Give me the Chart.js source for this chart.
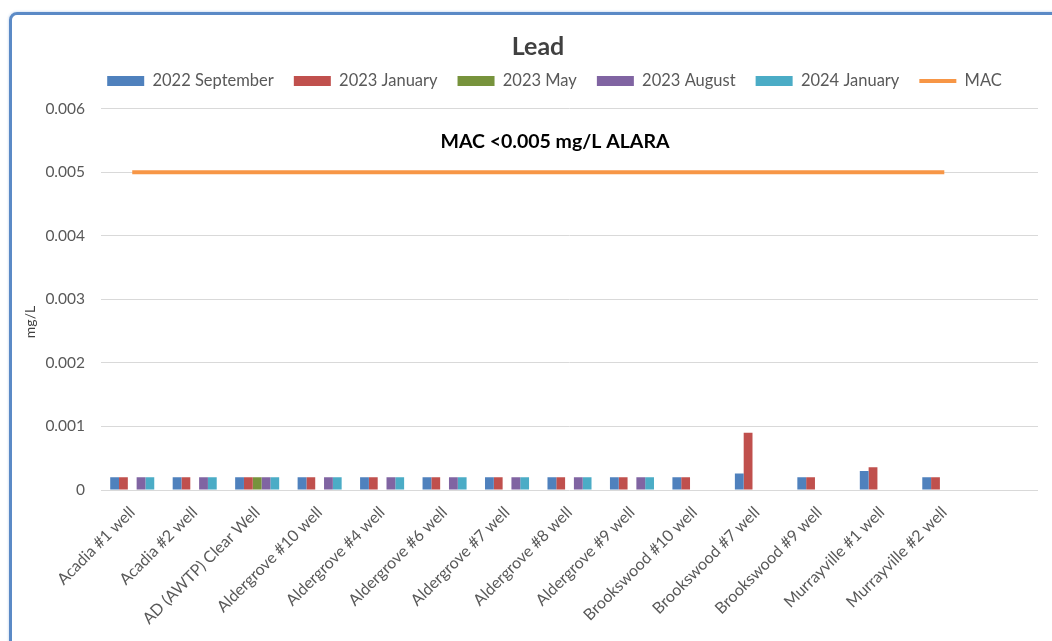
<!DOCTYPE html>
<html>
<head>
<meta charset="utf-8">
<title>Lead</title>
<script src="https://cdn.jsdelivr.net/npm/chart.js@4.4.1/dist/chart.umd.min.js"></script>
<style>
  html, body { margin: 0; padding: 0; background: #fff; }
  #frame {
    position: absolute; left: 9px; top: 12px;
    width: 1100px; height: 700px;
    border: 3px solid #5b8ac6; border-radius: 8px;
    box-shadow: 0 0 3px #b8cde9;
  }
  #wrap { position: absolute; left: 0; top: 0; width: 1052px; height: 641px; }
</style>
</head>
<body>
<div id="frame"></div>
<div id="wrap"><canvas id="chart"></canvas></div>
<script>
// Datos
const wells = [
    'Acadia #1 well', 'Acadia #2 well', 'AD (AWTP) Clear Well', 'Aldergrove #10 well',
    'Aldergrove #4 well', 'Aldergrove #6 well', 'Aldergrove #7 well', 'Aldergrove #8 well',
    'Aldergrove #9 well', 'Brookswood #10 well', 'Brookswood #7 well', 'Brookswood #9 well',
    'Murrayville #1 well', 'Murrayville #2 well', ''
];
const sep2022 = [0.0002, 0.0002, 0.0002, 0.0002, 0.0002, 0.0002, 0.0002, 0.0002, 0.0002, 0.0002, 0.00026, 0.0002, 0.0003, 0.0002, null];
const jan2023 = [0.0002, 0.0002, 0.0002, 0.0002, 0.0002, 0.0002, 0.0002, 0.0002, 0.0002, 0.0002, 0.0009, 0.0002, 0.00036, 0.0002, null];
const may2023 = [null, null, 0.0002, null, null, null, null, null, null, null, null, null, null, null, null];
const aug2023 = [0.0002, 0.0002, 0.0002, 0.0002, 0.0002, 0.0002, 0.0002, 0.0002, 0.0002, null, null, null, null, null, null];
const jan2024 = [0.0002, 0.0002, 0.0002, 0.0002, 0.0002, 0.0002, 0.0002, 0.0002, 0.0002, null, null, null, null, null, null];
const mac = [0.005, 0.005, 0.005, 0.005, 0.005, 0.005, 0.005, 0.005, 0.005, 0.005, 0.005, 0.005, 0.005, 0.005, null];
const yTicks = [0, 0.001, 0.002, 0.003, 0.004, 0.005, 0.006];
const yMax = 0.00615; // un poco de aire sobre 0.006, como en el original

const chartTitle = 'Lead';
const yTitle = 'mg/L';
const macNote = 'MAC <0.005 mg/L ALARA';
const macNoteValue = 0.00548;

Chart.defaults.font.family = 'Lato, "Liberation Sans", sans-serif';
Chart.defaults.color = '#595959';

// Título, etiqueta del eje y nota del MAC dibujados sobre el canvas
const textPlugin = {
    id: 'chartText',
    afterLayout(chart) {
        // centrar la leyenda como en Excel
        chart.legend.left += 35.5;
        chart.legend.right += 35.5;
    },
    afterDatasetsDraw(chart) {
        const ctx = chart.ctx;
        const y = chart.scales.y;
        ctx.save();
        ctx.textAlign = 'center';
        ctx.textBaseline = 'middle';
        ctx.fillStyle = '#404040';
        ctx.font = 'bold 25px Lato, sans-serif';
        ctx.fillText(chartTitle, 538, 47);
        ctx.fillStyle = '#000';
        ctx.font = 'bold 19.5px Lato, sans-serif';
        ctx.fillText(macNote, 555, y.getPixelForValue(macNoteValue));
        ctx.translate(30, 322);
        ctx.rotate(-Math.PI / 2);
        ctx.fillStyle = '#404040';
        ctx.font = '14px Lato, sans-serif';
        ctx.fillText(yTitle, 0, 0);
        ctx.restore();
    }
};

function barSet(label, data, color) {
    return {
        type: 'bar',
        label: label,
        data: data,
        backgroundColor: color,
        borderWidth: 0,
        pointStyle: 'rect',
        barPercentage: 1,
        categoryPercentage: 0.705
    };
}

const ctx = document.getElementById('chart').getContext('2d');
new Chart(ctx, {
    type: 'bar',
    data: {
        labels: wells,
        datasets: [
            barSet('2022 September', sep2022, '#4F81BD'),
            barSet('2023 January', jan2023, '#C0504D'),
            barSet('2023 May', may2023, '#77933C'),
            barSet('2023 August', aug2023, '#8064A2'),
            barSet('2024 January', jan2024, '#4BACC6'),
            {
                type: 'line',
                label: 'MAC',
                data: mac,
                borderColor: '#F79646',
                backgroundColor: '#F79646',
                borderWidth: 4,
                pointRadius: 0,
                pointStyle: 'line',
                fill: false
            }
        ]
    },
    options: {
        responsive: true,
        maintainAspectRatio: false,
        animation: false,
        layout: { padding: { top: 52.75, left: 0, right: 14, bottom: 0 } },
        plugins: {
            title: { display: false },
            tooltip: { enabled: false },
            legend: {
                position: 'top',
                labels: {
                    usePointStyle: true,
                    pointStyleWidth: 37,
                    boxHeight: 10,
                    padding: 20,
                    color: '#595959',
                    font: { size: 16.5 }
                }
            }
        },
        scales: {
            x: {
                grid: { display: false },
                border: { display: false },
                ticks: {
                    autoSkip: false,
                    minRotation: 45,
                    maxRotation: 45,
                    padding: 5,
                    color: '#595959',
                    font: { size: 16 }
                },
                afterFit(scale) { scale.height = 151; }
            },
            y: {
                min: 0,
                max: yMax,
                grid: { color: '#d9d9d9', drawTicks: false },
                border: { display: false },
                afterBuildTicks(scale) { scale.ticks = yTicks.map(v => ({ value: v })); },
                ticks: {
                    padding: 16,
                    color: '#595959',
                    font: { size: 15.5 },
                    callback: v => v === 0 ? '0' : v.toFixed(3)
                },
                afterFit(scale) { scale.width = 101; }
            }
        }
    },
    plugins: [textPlugin]
});
</script>
</body>
</html>
